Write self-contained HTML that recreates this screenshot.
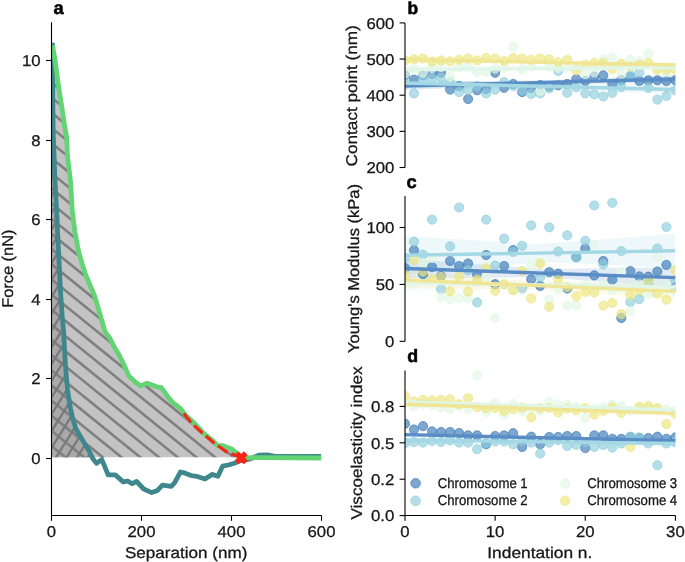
<!DOCTYPE html>
<html><head><meta charset="utf-8"><style>
html,body{margin:0;padding:0;background:#fff;width:685px;height:562px;overflow:hidden}
svg{display:block}
text{font-family:"Liberation Sans", sans-serif;fill:#161616;stroke:#161616;stroke-width:0.28px}
svg{position:absolute;left:0;top:0}
#tx{will-change:transform;text-rendering:geometricPrecision}
</style></head><body>
<svg width="685" height="562" viewBox="0 0 685 562" font-family='"Liberation Sans", sans-serif'>
<defs>
<pattern id="hb" patternUnits="userSpaceOnUse" width="11.77" height="11.77" patternTransform="translate(0,11.13) rotate(39)">
<rect width="11.77" height="11.77" fill="#c3c3c3"/>
<line x1="-1" y1="0" x2="13" y2="0" stroke="#7f7f7f" stroke-width="2.5"/>
<line x1="-1" y1="11.77" x2="13" y2="11.77" stroke="#7f7f7f" stroke-width="2.5"/>
</pattern>
<pattern id="hx" patternUnits="userSpaceOnUse" width="11.77" height="11.77" patternTransform="translate(0,11.13) rotate(39)">
<rect width="11.77" height="11.77" fill="#a9a9a9"/>
<line x1="-1" y1="0" x2="13" y2="0" stroke="#7a7a7a" stroke-width="2.5"/>
<line x1="-1" y1="11.77" x2="13" y2="11.77" stroke="#7a7a7a" stroke-width="2.5"/>
</pattern>
<pattern id="hs" patternUnits="userSpaceOnUse" width="8.9" height="8.9" patternTransform="translate(0,9.6) rotate(122)">
<line x1="-1" y1="0" x2="10" y2="0" stroke="#7a7a7a" stroke-width="2.3"/>
<line x1="-1" y1="8.9" x2="10" y2="8.9" stroke="#7a7a7a" stroke-width="2.3"/>
</pattern>
<clipPath id="ca"><rect x="51.5" y="22" width="270" height="493.5"/></clipPath>
<clipPath id="cr"><rect x="405" y="0" width="270.4" height="562"/></clipPath>
</defs>
<rect width="685" height="562" fill="#fff"/>
<g clip-path="url(#ca)">
<clipPath id="cg"><polygon points="51.5,457.2 51.5,45.5 52.5,45.5 55.0,60.0 57.0,75.0 59.0,89.4 61.5,105.0 63.7,120.0 65.3,130.0 66.7,137.0 67.4,155.6 70.6,182.2 72.2,210.0 74.8,231.4 78.8,252.7 85.3,274.0 94.4,295.5 97.6,306.0 101.8,320.5 104.5,330.0 106.1,333.4 109.6,337.8 114.1,346.7 119.4,355.6 123.9,364.5 128.3,375.2 135.5,382.3 140.8,385.9 147.0,383.2 156.8,386.8 161.3,387.7 167.8,396.7 173.1,402.9 180.3,408.3 185.6,415.4 194.5,423.4 203.4,433.2 212.3,440.3 217.6,445.6 223.0,445.6 231.9,449.2 237.2,453.7 240.8,457.2 240.8,457.2"/></clipPath>
<clipPath id="ct"><polygon points="51.5,457.2 51.5,42.8 52.4,42.8 52.6,80.0 53.0,120.0 53.3,136.0 55.0,180.0 57.1,220.0 57.5,231.0 60.7,295.0 62.5,320.0 63.5,330.0 65.1,360.0 66.2,375.0 67.6,390.0 69.4,402.0 70.6,409.0 72.8,418.5 75.7,428.3 78.6,433.5 83.1,440.9 89.4,451.6 92.0,457.2"/></clipPath>
<polygon points="51.5,457.2 51.5,45.5 52.5,45.5 55.0,60.0 57.0,75.0 59.0,89.4 61.5,105.0 63.7,120.0 65.3,130.0 66.7,137.0 67.4,155.6 70.6,182.2 72.2,210.0 74.8,231.4 78.8,252.7 85.3,274.0 94.4,295.5 97.6,306.0 101.8,320.5 104.5,330.0 106.1,333.4 109.6,337.8 114.1,346.7 119.4,355.6 123.9,364.5 128.3,375.2 135.5,382.3 140.8,385.9 147.0,383.2 156.8,386.8 161.3,387.7 167.8,396.7 173.1,402.9 180.3,408.3 185.6,415.4 194.5,423.4 203.4,433.2 212.3,440.3 217.6,445.6 223.0,445.6 231.9,449.2 237.2,453.7 240.8,457.2 240.8,457.2" fill="#c3c3c3"/>
<polygon points="51.5,457.2 51.5,42.8 52.4,42.8 52.6,80.0 53.0,120.0 53.3,136.0 55.0,180.0 57.1,220.0 57.5,231.0 60.7,295.0 62.5,320.0 63.5,330.0 65.1,360.0 66.2,375.0 67.6,390.0 69.4,402.0 70.6,409.0 72.8,418.5 75.7,428.3 78.6,433.5 83.1,440.9 89.4,451.6 92.0,457.2" fill="#a9a9a9"/>
<path clip-path="url(#cg)" d="M40 -214.76L330 20.08M40 -199.61L330 35.23M40 -184.46L330 50.38M40 -169.31L330 65.53M40 -154.16L330 80.68M40 -139.01L330 95.83M40 -123.86L330 110.98M40 -108.71L330 126.13M40 -93.56L330 141.28M40 -78.41L330 156.43M40 -63.26L330 171.58M40 -48.11L330 186.73M40 -32.96L330 201.88M40 -17.81L330 217.03M40 -2.66L330 232.18M40 12.49L330 247.33M40 27.64L330 262.48M40 42.79L330 277.63M40 57.94L330 292.78M40 73.09L330 307.93M40 88.24L330 323.08M40 103.39L330 338.23M40 118.54L330 353.38M40 133.69L330 368.53M40 148.84L330 383.68M40 163.99L330 398.83M40 179.14L330 413.98M40 194.29L330 429.13M40 209.44L330 444.28M40 224.59L330 459.43M40 239.74L330 474.58M40 254.89L330 489.73M40 270.04L330 504.88M40 285.19L330 520.03M40 300.34L330 535.18M40 315.49L330 550.33M40 330.64L330 565.48M40 345.79L330 580.63M40 360.94L330 595.78M40 376.09L330 610.93M40 391.24L330 626.08M40 406.39L330 641.23M40 421.54L330 656.38M40 436.69L330 671.53M40 451.84L330 686.68M40 466.99L330 701.83" stroke="#808080" stroke-width="2.6" fill="none"/>
<path clip-path="url(#ct)" d="M45 21.58L100 -66.43M45 38.38L100 -49.63M45 55.18L100 -32.83M45 71.98L100 -16.03M45 88.78L100 0.77M45 105.58L100 17.57M45 122.38L100 34.37M45 139.18L100 51.17M45 155.98L100 67.97M45 172.78L100 84.77M45 189.58L100 101.57M45 206.38L100 118.37M45 223.18L100 135.17M45 239.98L100 151.97M45 256.78L100 168.77M45 273.58L100 185.57M45 290.38L100 202.37M45 307.18L100 219.17M45 323.98L100 235.97M45 340.78L100 252.77M45 357.58L100 269.57M45 374.38L100 286.37M45 391.18L100 303.17M45 407.98L100 319.97M45 424.78L100 336.77M45 441.58L100 353.57M45 458.38L100 370.37M45 475.18L100 387.17M45 491.98L100 403.97M45 508.78L100 420.77M45 525.58L100 437.57M45 542.38L100 454.37" stroke="#7a7a7a" stroke-width="2.3" fill="none"/>
<polyline points="52.4,42.8 52.6,80.0 53.0,120.0 53.3,136.0 55.0,180.0 57.1,220.0 57.5,231.0 60.7,295.0 62.5,320.0 63.5,330.0 65.1,360.0 66.2,375.0 67.6,390.0 69.4,402.0 70.6,409.0 72.8,418.5 75.7,428.3 78.6,433.5 83.1,440.9 89.4,451.6 92.9,458.8 96.5,463.2 101.8,459.6 104.5,465.9 108.1,474.8 115.2,474.8 123.2,481.9 127.7,481.0 132.1,483.7 136.6,481.5 143.7,489.0 151.7,492.6 157.0,490.8 162.4,485.1 171.3,486.3 174.7,482.6 180.5,472.0 185.2,473.2 191.0,475.5 198.0,476.7 205.0,479.0 212.0,474.4 217.9,476.3 222.6,466.2 228.4,465.0 234.2,463.2 240.1,460.8 249.4,459.2 258.8,455.2 268.1,455.0 275.1,456.4 321.3,456.5" fill="none" stroke="#3f878d" stroke-width="4.8" stroke-linejoin="round" stroke-linecap="butt"/>
<polyline points="52.5,45.5 55.0,60.0 57.0,75.0 59.0,89.4 61.5,105.0 63.7,120.0 65.3,130.0 66.7,137.0 67.4,155.6 70.6,182.2 72.2,210.0 74.8,231.4 78.8,252.7 85.3,274.0 94.4,295.5 97.6,306.0 101.8,320.5 104.5,330.0 106.1,333.4 109.6,337.8 114.1,346.7 119.4,355.6 123.9,364.5 128.3,375.2 135.5,382.3 140.8,385.9 147.0,383.2 156.8,386.8 161.3,387.7 167.8,396.7 173.1,402.9 180.3,408.3 185.6,415.4 194.5,423.4 203.4,433.2 212.3,440.3 217.6,445.6 223.0,445.6 231.9,449.2 237.2,453.7 240.8,457.2 249.7,457.8 260.0,457.6 321.3,458.0" fill="none" stroke="#63d474" stroke-width="4.8" stroke-linejoin="round" stroke-linecap="butt"/>
<polyline points="183.8,413.6 191.8,423.4 202.5,433.2 214.0,443.0 226.5,451.9 240.8,457.5" fill="none" stroke="#f2281a" stroke-width="3.2" stroke-dasharray="11.5 4.2" stroke-linejoin="round"/>
<polygon points="238.4,452.3 241.2,455.1 243.9,452.3 246.7,455.1 243.9,457.8 246.7,460.6 243.9,463.3 241.2,460.6 238.4,463.3 235.7,460.6 238.4,457.8 235.7,455.1" fill="#f8251a" stroke="#f8251a" stroke-width="1.5" stroke-linejoin="round"/>
</g>
<g stroke="#000" stroke-width="1.1" fill="none">
<path d="M51.5 22.2 V515.5 H321.5"/>
<path d="M46 458.50 H51.5"/>
<path d="M46 378.50 H51.5"/>
<path d="M46 299.50 H51.5"/>
<path d="M46 219.50 H51.5"/>
<path d="M46 140.50 H51.5"/>
<path d="M46 60.50 H51.5"/>
<path d="M51.50 515.5 V520.8"/>
<path d="M141.50 515.5 V520.8"/>
<path d="M231.50 515.5 V520.8"/>
<path d="M321.50 515.5 V520.8"/>
</g>
<g clip-path="url(#cr)">
<polygon points="405.0,82.0 540.2,80.5 675.4,75.0 675.4,83.0 540.2,84.5 405.0,90.0" fill="#5a8dc6" fill-opacity="0.18"/>
<polygon points="405.0,78.0 540.2,84.2 675.4,84.5 675.4,94.5 540.2,88.2 405.0,88.0" fill="#a3d8e4" fill-opacity="0.18"/>
<polygon points="405.0,65.5 540.2,66.5 675.4,63.5 675.4,71.5 540.2,70.5 405.0,73.5" fill="#e0f6e8" fill-opacity="0.18"/>
<polygon points="405.0,56.5 540.2,60.8 675.4,62.0 675.4,68.0 540.2,63.8 405.0,62.5" fill="#efe594" fill-opacity="0.18"/>
<g fill="rgb(55,120,182)" fill-opacity="0.65" stroke="rgb(55,120,182)" stroke-opacity="0.65" stroke-width="1">
<circle cx="405.00" cy="75.30" r="4.6"/>
<circle cx="414.01" cy="79.70" r="4.6"/>
<circle cx="423.03" cy="75.30" r="4.6"/>
<circle cx="432.04" cy="74.10" r="4.6"/>
<circle cx="441.05" cy="72.80" r="4.6"/>
<circle cx="450.07" cy="89.60" r="4.6"/>
<circle cx="459.08" cy="86.00" r="4.6"/>
<circle cx="468.09" cy="99.00" r="4.6"/>
<circle cx="477.11" cy="90.30" r="4.6"/>
<circle cx="486.12" cy="89.00" r="4.6"/>
<circle cx="495.13" cy="72.80" r="4.6"/>
<circle cx="504.15" cy="87.80" r="4.6"/>
<circle cx="513.16" cy="84.00" r="4.6"/>
<circle cx="522.17" cy="92.10" r="4.6"/>
<circle cx="531.19" cy="88.00" r="4.6"/>
<circle cx="540.20" cy="85.00" r="4.6"/>
<circle cx="549.21" cy="86.50" r="4.6"/>
<circle cx="558.23" cy="85.30" r="4.6"/>
<circle cx="567.24" cy="84.00" r="4.6"/>
<circle cx="576.25" cy="79.10" r="4.6"/>
<circle cx="585.27" cy="81.00" r="4.6"/>
<circle cx="594.28" cy="76.60" r="4.6"/>
<circle cx="603.29" cy="75.30" r="4.6"/>
<circle cx="612.31" cy="84.00" r="4.6"/>
<circle cx="621.32" cy="80.00" r="4.6"/>
<circle cx="630.33" cy="77.00" r="4.6"/>
<circle cx="639.35" cy="81.00" r="4.6"/>
<circle cx="648.36" cy="80.30" r="4.6"/>
<circle cx="657.37" cy="80.30" r="4.6"/>
<circle cx="666.39" cy="81.00" r="4.6"/>
<circle cx="675.40" cy="80.30" r="4.6"/>
</g>
<g fill="rgb(140,204,220)" fill-opacity="0.65" stroke="rgb(140,204,220)" stroke-opacity="0.65" stroke-width="1">
<circle cx="405.00" cy="84.00" r="4.6"/>
<circle cx="414.01" cy="93.40" r="4.6"/>
<circle cx="423.03" cy="79.10" r="4.6"/>
<circle cx="432.04" cy="78.40" r="4.6"/>
<circle cx="441.05" cy="77.80" r="4.6"/>
<circle cx="450.07" cy="82.00" r="4.6"/>
<circle cx="459.08" cy="92.10" r="4.6"/>
<circle cx="468.09" cy="90.30" r="4.6"/>
<circle cx="477.11" cy="86.00" r="4.6"/>
<circle cx="486.12" cy="93.40" r="4.6"/>
<circle cx="495.13" cy="89.60" r="4.6"/>
<circle cx="504.15" cy="82.20" r="4.6"/>
<circle cx="513.16" cy="86.00" r="4.6"/>
<circle cx="522.17" cy="90.30" r="4.6"/>
<circle cx="531.19" cy="94.00" r="4.6"/>
<circle cx="540.20" cy="93.40" r="4.6"/>
<circle cx="549.21" cy="88.40" r="4.6"/>
<circle cx="558.23" cy="71.00" r="4.6"/>
<circle cx="567.24" cy="92.80" r="4.6"/>
<circle cx="576.25" cy="87.20" r="4.6"/>
<circle cx="585.27" cy="93.40" r="4.6"/>
<circle cx="594.28" cy="94.30" r="4.6"/>
<circle cx="603.29" cy="96.50" r="4.6"/>
<circle cx="612.31" cy="92.80" r="4.6"/>
<circle cx="621.32" cy="87.20" r="4.6"/>
<circle cx="630.33" cy="75.30" r="4.6"/>
<circle cx="639.35" cy="72.80" r="4.6"/>
<circle cx="648.36" cy="87.80" r="4.6"/>
<circle cx="657.37" cy="99.60" r="4.6"/>
<circle cx="666.39" cy="95.90" r="4.6"/>
<circle cx="675.40" cy="90.30" r="4.6"/>
</g>
<g fill="rgb(226,247,229)" fill-opacity="0.65" stroke="rgb(226,247,229)" stroke-opacity="0.65" stroke-width="1">
<circle cx="405.00" cy="73.50" r="4.6"/>
<circle cx="414.01" cy="69.10" r="4.6"/>
<circle cx="423.03" cy="72.80" r="4.6"/>
<circle cx="432.04" cy="68.00" r="4.6"/>
<circle cx="441.05" cy="67.00" r="4.6"/>
<circle cx="450.07" cy="76.60" r="4.6"/>
<circle cx="459.08" cy="67.20" r="4.6"/>
<circle cx="468.09" cy="66.50" r="4.6"/>
<circle cx="477.11" cy="72.20" r="4.6"/>
<circle cx="486.12" cy="71.60" r="4.6"/>
<circle cx="495.13" cy="68.50" r="4.6"/>
<circle cx="504.15" cy="67.90" r="4.6"/>
<circle cx="513.16" cy="46.70" r="4.6"/>
<circle cx="522.17" cy="69.10" r="4.6"/>
<circle cx="531.19" cy="66.60" r="4.6"/>
<circle cx="540.20" cy="90.90" r="4.6"/>
<circle cx="549.21" cy="66.60" r="4.6"/>
<circle cx="558.23" cy="68.00" r="4.6"/>
<circle cx="567.24" cy="67.90" r="4.6"/>
<circle cx="576.25" cy="67.00" r="4.6"/>
<circle cx="585.27" cy="74.10" r="4.6"/>
<circle cx="594.28" cy="72.20" r="4.6"/>
<circle cx="603.29" cy="59.20" r="4.6"/>
<circle cx="612.31" cy="57.30" r="4.6"/>
<circle cx="621.32" cy="74.70" r="4.6"/>
<circle cx="630.33" cy="59.80" r="4.6"/>
<circle cx="639.35" cy="61.00" r="4.6"/>
<circle cx="648.36" cy="53.60" r="4.6"/>
<circle cx="657.37" cy="68.00" r="4.6"/>
<circle cx="666.39" cy="74.70" r="4.6"/>
<circle cx="675.40" cy="68.00" r="4.6"/>
</g>
<g fill="rgb(236,229,124)" fill-opacity="0.65" stroke="rgb(236,229,124)" stroke-opacity="0.65" stroke-width="1">
<circle cx="405.00" cy="60.40" r="4.6"/>
<circle cx="414.01" cy="59.20" r="4.6"/>
<circle cx="423.03" cy="58.50" r="4.6"/>
<circle cx="432.04" cy="61.60" r="4.6"/>
<circle cx="441.05" cy="60.40" r="4.6"/>
<circle cx="450.07" cy="61.30" r="4.6"/>
<circle cx="459.08" cy="59.80" r="4.6"/>
<circle cx="468.09" cy="58.50" r="4.6"/>
<circle cx="477.11" cy="60.40" r="4.6"/>
<circle cx="486.12" cy="57.90" r="4.6"/>
<circle cx="495.13" cy="58.50" r="4.6"/>
<circle cx="504.15" cy="61.00" r="4.6"/>
<circle cx="513.16" cy="57.90" r="4.6"/>
<circle cx="522.17" cy="58.50" r="4.6"/>
<circle cx="531.19" cy="59.80" r="4.6"/>
<circle cx="540.20" cy="58.50" r="4.6"/>
<circle cx="549.21" cy="59.20" r="4.6"/>
<circle cx="558.23" cy="62.30" r="4.6"/>
<circle cx="567.24" cy="59.80" r="4.6"/>
<circle cx="576.25" cy="70.40" r="4.6"/>
<circle cx="585.27" cy="64.80" r="4.6"/>
<circle cx="594.28" cy="62.90" r="4.6"/>
<circle cx="603.29" cy="62.90" r="4.6"/>
<circle cx="612.31" cy="69.10" r="4.6"/>
<circle cx="621.32" cy="63.50" r="4.6"/>
<circle cx="630.33" cy="66.60" r="4.6"/>
<circle cx="639.35" cy="64.80" r="4.6"/>
<circle cx="648.36" cy="62.90" r="4.6"/>
<circle cx="657.37" cy="69.70" r="4.6"/>
<circle cx="666.39" cy="69.70" r="4.6"/>
<circle cx="675.40" cy="69.70" r="4.6"/>
</g>
<line x1="405.00" y1="86.00" x2="675.40" y2="79.00" stroke="#5a8dc6" stroke-width="3.4"/>
<line x1="405.00" y1="83.00" x2="675.40" y2="89.50" stroke="#a3d8e4" stroke-width="3.4"/>
<line x1="405.00" y1="69.50" x2="675.40" y2="67.50" stroke="#e0f6e8" stroke-width="3.4"/>
<line x1="405.00" y1="59.50" x2="675.40" y2="65.00" stroke="#efe594" stroke-width="3.4"/>
</g>
<g clip-path="url(#cr)">
<polygon points="405.0,258.5 540.2,269.1 675.4,267.6 675.4,287.6 540.2,277.1 405.0,278.5" fill="#5a8dc6" fill-opacity="0.18"/>
<polygon points="405.0,236.3 540.2,244.1 675.4,233.8 675.4,267.8 540.2,262.1 405.0,274.3" fill="#a3d8e4" fill-opacity="0.18"/>
<polygon points="405.0,275.0 540.2,281.0 675.4,279.0 675.4,295.0 540.2,289.0 405.0,291.0" fill="#e0f6e8" fill-opacity="0.18"/>
<polygon points="405.0,272.1 540.2,281.8 675.4,283.4 675.4,299.4 540.2,289.8 405.0,288.1" fill="#efe594" fill-opacity="0.18"/>
<g fill="rgb(55,120,182)" fill-opacity="0.65" stroke="rgb(55,120,182)" stroke-opacity="0.65" stroke-width="1">
<circle cx="405.00" cy="268.00" r="4.6"/>
<circle cx="414.01" cy="250.20" r="4.6"/>
<circle cx="423.03" cy="274.30" r="4.6"/>
<circle cx="432.04" cy="267.10" r="4.6"/>
<circle cx="441.05" cy="276.00" r="4.6"/>
<circle cx="450.07" cy="261.00" r="4.6"/>
<circle cx="459.08" cy="266.00" r="4.6"/>
<circle cx="468.09" cy="263.50" r="4.6"/>
<circle cx="477.11" cy="274.30" r="4.6"/>
<circle cx="486.12" cy="255.00" r="4.6"/>
<circle cx="495.13" cy="284.20" r="4.6"/>
<circle cx="504.15" cy="266.00" r="4.6"/>
<circle cx="513.16" cy="250.20" r="4.6"/>
<circle cx="522.17" cy="288.10" r="4.6"/>
<circle cx="531.19" cy="279.30" r="4.6"/>
<circle cx="540.20" cy="285.90" r="4.6"/>
<circle cx="549.21" cy="272.10" r="4.6"/>
<circle cx="558.23" cy="273.70" r="4.6"/>
<circle cx="567.24" cy="288.60" r="4.6"/>
<circle cx="576.25" cy="257.20" r="4.6"/>
<circle cx="585.27" cy="248.50" r="4.6"/>
<circle cx="594.28" cy="275.40" r="4.6"/>
<circle cx="603.29" cy="261.00" r="4.6"/>
<circle cx="612.31" cy="279.80" r="4.6"/>
<circle cx="621.32" cy="318.00" r="4.6"/>
<circle cx="630.33" cy="271.00" r="4.6"/>
<circle cx="639.35" cy="276.40" r="4.6"/>
<circle cx="648.36" cy="276.70" r="4.6"/>
<circle cx="657.37" cy="271.50" r="4.6"/>
<circle cx="666.39" cy="264.90" r="4.6"/>
<circle cx="675.40" cy="287.00" r="4.6"/>
</g>
<g fill="rgb(140,204,220)" fill-opacity="0.65" stroke="rgb(140,204,220)" stroke-opacity="0.65" stroke-width="1">
<circle cx="405.00" cy="258.00" r="4.6"/>
<circle cx="414.01" cy="241.70" r="4.6"/>
<circle cx="423.03" cy="254.60" r="4.6"/>
<circle cx="432.04" cy="219.60" r="4.6"/>
<circle cx="441.05" cy="289.20" r="4.6"/>
<circle cx="450.07" cy="246.30" r="4.6"/>
<circle cx="459.08" cy="207.50" r="4.6"/>
<circle cx="468.09" cy="270.40" r="4.6"/>
<circle cx="477.11" cy="302.40" r="4.6"/>
<circle cx="486.12" cy="219.60" r="4.6"/>
<circle cx="495.13" cy="265.50" r="4.6"/>
<circle cx="504.15" cy="238.60" r="4.6"/>
<circle cx="513.16" cy="252.00" r="4.6"/>
<circle cx="522.17" cy="245.80" r="4.6"/>
<circle cx="531.19" cy="225.40" r="4.6"/>
<circle cx="540.20" cy="277.00" r="4.6"/>
<circle cx="549.21" cy="227.30" r="4.6"/>
<circle cx="558.23" cy="251.50" r="4.6"/>
<circle cx="567.24" cy="235.30" r="4.6"/>
<circle cx="576.25" cy="257.00" r="4.6"/>
<circle cx="585.27" cy="240.80" r="4.6"/>
<circle cx="594.28" cy="205.50" r="4.6"/>
<circle cx="603.29" cy="264.40" r="4.6"/>
<circle cx="612.31" cy="202.80" r="4.6"/>
<circle cx="621.32" cy="251.00" r="4.6"/>
<circle cx="630.33" cy="301.90" r="4.6"/>
<circle cx="639.35" cy="299.10" r="4.6"/>
<circle cx="648.36" cy="281.50" r="4.6"/>
<circle cx="657.37" cy="248.50" r="4.6"/>
<circle cx="666.39" cy="227.00" r="4.6"/>
<circle cx="675.40" cy="280.40" r="4.6"/>
</g>
<g fill="rgb(226,247,229)" fill-opacity="0.65" stroke="rgb(226,247,229)" stroke-opacity="0.65" stroke-width="1">
<circle cx="405.00" cy="284.00" r="4.6"/>
<circle cx="414.01" cy="284.00" r="4.6"/>
<circle cx="423.03" cy="263.00" r="4.6"/>
<circle cx="432.04" cy="258.00" r="4.6"/>
<circle cx="441.05" cy="297.40" r="4.6"/>
<circle cx="450.07" cy="299.10" r="4.6"/>
<circle cx="459.08" cy="298.00" r="4.6"/>
<circle cx="468.09" cy="298.50" r="4.6"/>
<circle cx="477.11" cy="282.00" r="4.6"/>
<circle cx="486.12" cy="276.50" r="4.6"/>
<circle cx="495.13" cy="318.00" r="4.6"/>
<circle cx="504.15" cy="285.00" r="4.6"/>
<circle cx="513.16" cy="290.00" r="4.6"/>
<circle cx="522.17" cy="290.00" r="4.6"/>
<circle cx="531.19" cy="265.50" r="4.6"/>
<circle cx="540.20" cy="262.00" r="4.6"/>
<circle cx="549.21" cy="299.70" r="4.6"/>
<circle cx="558.23" cy="289.20" r="4.6"/>
<circle cx="567.24" cy="305.70" r="4.6"/>
<circle cx="576.25" cy="305.20" r="4.6"/>
<circle cx="585.27" cy="284.80" r="4.6"/>
<circle cx="594.28" cy="245.50" r="4.6"/>
<circle cx="603.29" cy="285.00" r="4.6"/>
<circle cx="612.31" cy="290.00" r="4.6"/>
<circle cx="621.32" cy="271.50" r="4.6"/>
<circle cx="630.33" cy="311.20" r="4.6"/>
<circle cx="639.35" cy="284.50" r="4.6"/>
<circle cx="648.36" cy="294.50" r="4.6"/>
<circle cx="657.37" cy="256.70" r="4.6"/>
<circle cx="666.39" cy="285.00" r="4.6"/>
<circle cx="675.40" cy="290.00" r="4.6"/>
</g>
<g fill="rgb(236,229,124)" fill-opacity="0.65" stroke="rgb(236,229,124)" stroke-opacity="0.65" stroke-width="1">
<circle cx="405.00" cy="274.80" r="4.6"/>
<circle cx="414.01" cy="260.00" r="4.6"/>
<circle cx="423.03" cy="271.50" r="4.6"/>
<circle cx="432.04" cy="279.30" r="4.6"/>
<circle cx="441.05" cy="277.00" r="4.6"/>
<circle cx="450.07" cy="291.40" r="4.6"/>
<circle cx="459.08" cy="276.50" r="4.6"/>
<circle cx="468.09" cy="291.40" r="4.6"/>
<circle cx="477.11" cy="279.80" r="4.6"/>
<circle cx="486.12" cy="268.20" r="4.6"/>
<circle cx="495.13" cy="290.80" r="4.6"/>
<circle cx="504.15" cy="284.20" r="4.6"/>
<circle cx="513.16" cy="290.30" r="4.6"/>
<circle cx="522.17" cy="271.00" r="4.6"/>
<circle cx="531.19" cy="298.50" r="4.6"/>
<circle cx="540.20" cy="263.80" r="4.6"/>
<circle cx="549.21" cy="306.80" r="4.6"/>
<circle cx="558.23" cy="279.80" r="4.6"/>
<circle cx="567.24" cy="287.00" r="4.6"/>
<circle cx="576.25" cy="296.30" r="4.6"/>
<circle cx="585.27" cy="291.90" r="4.6"/>
<circle cx="594.28" cy="292.50" r="4.6"/>
<circle cx="603.29" cy="305.70" r="4.6"/>
<circle cx="612.31" cy="303.00" r="4.6"/>
<circle cx="621.32" cy="314.00" r="4.6"/>
<circle cx="630.33" cy="295.20" r="4.6"/>
<circle cx="639.35" cy="290.30" r="4.6"/>
<circle cx="648.36" cy="279.80" r="4.6"/>
<circle cx="657.37" cy="293.60" r="4.6"/>
<circle cx="666.39" cy="299.70" r="4.6"/>
<circle cx="675.40" cy="269.90" r="4.6"/>
</g>
<line x1="405.00" y1="268.50" x2="675.40" y2="277.60" stroke="#5a8dc6" stroke-width="3.4"/>
<line x1="405.00" y1="255.30" x2="675.40" y2="250.80" stroke="#a3d8e4" stroke-width="3.4"/>
<line x1="405.00" y1="283.00" x2="675.40" y2="287.00" stroke="#e0f6e8" stroke-width="3.4"/>
<line x1="405.00" y1="280.10" x2="675.40" y2="291.40" stroke="#efe594" stroke-width="3.4"/>
</g>
<g clip-path="url(#cr)">
<polygon points="405.0,432.6 540.2,436.7 675.4,438.8 675.4,442.8 540.2,438.7 405.0,436.6" fill="#5a8dc6" fill-opacity="0.18"/>
<polygon points="405.0,437.0 540.2,440.2 675.4,440.5 675.4,446.5 540.2,443.2 405.0,443.0" fill="#a3d8e4" fill-opacity="0.18"/>
<polygon points="405.0,399.0 540.2,404.5 675.4,407.0 675.4,413.0 540.2,407.5 405.0,405.0" fill="#e0f6e8" fill-opacity="0.18"/>
<polygon points="405.0,401.2 540.2,407.3 675.4,410.4 675.4,416.4 540.2,410.3 405.0,407.2" fill="#efe594" fill-opacity="0.18"/>
<g fill="rgb(55,120,182)" fill-opacity="0.65" stroke="rgb(55,120,182)" stroke-opacity="0.65" stroke-width="1">
<circle cx="405.00" cy="423.70" r="4.6"/>
<circle cx="414.01" cy="429.50" r="4.6"/>
<circle cx="423.03" cy="426.20" r="4.6"/>
<circle cx="432.04" cy="431.40" r="4.6"/>
<circle cx="441.05" cy="432.00" r="4.6"/>
<circle cx="450.07" cy="432.00" r="4.6"/>
<circle cx="459.08" cy="433.00" r="4.6"/>
<circle cx="468.09" cy="435.40" r="4.6"/>
<circle cx="477.11" cy="435.40" r="4.6"/>
<circle cx="486.12" cy="444.20" r="4.6"/>
<circle cx="495.13" cy="436.00" r="4.6"/>
<circle cx="504.15" cy="435.40" r="4.6"/>
<circle cx="513.16" cy="433.20" r="4.6"/>
<circle cx="522.17" cy="447.00" r="4.6"/>
<circle cx="531.19" cy="436.70" r="4.6"/>
<circle cx="540.20" cy="444.20" r="4.6"/>
<circle cx="549.21" cy="437.00" r="4.6"/>
<circle cx="558.23" cy="437.00" r="4.6"/>
<circle cx="567.24" cy="436.00" r="4.6"/>
<circle cx="576.25" cy="436.00" r="4.6"/>
<circle cx="585.27" cy="448.10" r="4.6"/>
<circle cx="594.28" cy="435.40" r="4.6"/>
<circle cx="603.29" cy="435.40" r="4.6"/>
<circle cx="612.31" cy="438.80" r="4.6"/>
<circle cx="621.32" cy="438.80" r="4.6"/>
<circle cx="630.33" cy="437.00" r="4.6"/>
<circle cx="639.35" cy="438.00" r="4.6"/>
<circle cx="648.36" cy="438.10" r="4.6"/>
<circle cx="657.37" cy="436.70" r="4.6"/>
<circle cx="666.39" cy="438.80" r="4.6"/>
<circle cx="675.40" cy="437.40" r="4.6"/>
</g>
<g fill="rgb(140,204,220)" fill-opacity="0.65" stroke="rgb(140,204,220)" stroke-opacity="0.65" stroke-width="1">
<circle cx="405.00" cy="443.10" r="4.6"/>
<circle cx="414.01" cy="442.00" r="4.6"/>
<circle cx="423.03" cy="442.60" r="4.6"/>
<circle cx="432.04" cy="441.00" r="4.6"/>
<circle cx="441.05" cy="442.00" r="4.6"/>
<circle cx="450.07" cy="440.40" r="4.6"/>
<circle cx="459.08" cy="442.60" r="4.6"/>
<circle cx="468.09" cy="442.60" r="4.6"/>
<circle cx="477.11" cy="449.20" r="4.6"/>
<circle cx="486.12" cy="443.00" r="4.6"/>
<circle cx="495.13" cy="441.50" r="4.6"/>
<circle cx="504.15" cy="441.50" r="4.6"/>
<circle cx="513.16" cy="444.20" r="4.6"/>
<circle cx="522.17" cy="441.00" r="4.6"/>
<circle cx="531.19" cy="442.60" r="4.6"/>
<circle cx="540.20" cy="453.60" r="4.6"/>
<circle cx="549.21" cy="442.60" r="4.6"/>
<circle cx="558.23" cy="440.00" r="4.6"/>
<circle cx="567.24" cy="445.90" r="4.6"/>
<circle cx="576.25" cy="444.80" r="4.6"/>
<circle cx="585.27" cy="442.00" r="4.6"/>
<circle cx="594.28" cy="446.90" r="4.6"/>
<circle cx="603.29" cy="444.90" r="4.6"/>
<circle cx="612.31" cy="447.60" r="4.6"/>
<circle cx="621.32" cy="443.50" r="4.6"/>
<circle cx="630.33" cy="436.70" r="4.6"/>
<circle cx="639.35" cy="437.40" r="4.6"/>
<circle cx="648.36" cy="443.50" r="4.6"/>
<circle cx="657.37" cy="465.20" r="4.6"/>
<circle cx="666.39" cy="443.50" r="4.6"/>
<circle cx="675.40" cy="442.00" r="4.6"/>
</g>
<g fill="rgb(226,247,229)" fill-opacity="0.65" stroke="rgb(226,247,229)" stroke-opacity="0.65" stroke-width="1">
<circle cx="405.00" cy="403.00" r="4.6"/>
<circle cx="414.01" cy="406.40" r="4.6"/>
<circle cx="423.03" cy="404.00" r="4.6"/>
<circle cx="432.04" cy="405.00" r="4.6"/>
<circle cx="441.05" cy="407.50" r="4.6"/>
<circle cx="450.07" cy="409.10" r="4.6"/>
<circle cx="459.08" cy="406.00" r="4.6"/>
<circle cx="468.09" cy="409.10" r="4.6"/>
<circle cx="477.11" cy="375.00" r="4.6"/>
<circle cx="486.12" cy="411.90" r="4.6"/>
<circle cx="495.13" cy="403.00" r="4.6"/>
<circle cx="504.15" cy="414.70" r="4.6"/>
<circle cx="513.16" cy="404.20" r="4.6"/>
<circle cx="522.17" cy="411.00" r="4.6"/>
<circle cx="531.19" cy="408.00" r="4.6"/>
<circle cx="540.20" cy="411.00" r="4.6"/>
<circle cx="549.21" cy="402.00" r="4.6"/>
<circle cx="558.23" cy="404.70" r="4.6"/>
<circle cx="567.24" cy="404.70" r="4.6"/>
<circle cx="576.25" cy="407.00" r="4.6"/>
<circle cx="585.27" cy="418.00" r="4.6"/>
<circle cx="594.28" cy="409.00" r="4.6"/>
<circle cx="603.29" cy="407.00" r="4.6"/>
<circle cx="612.31" cy="404.60" r="4.6"/>
<circle cx="621.32" cy="406.00" r="4.6"/>
<circle cx="630.33" cy="410.70" r="4.6"/>
<circle cx="639.35" cy="408.00" r="4.6"/>
<circle cx="648.36" cy="408.00" r="4.6"/>
<circle cx="657.37" cy="409.00" r="4.6"/>
<circle cx="666.39" cy="409.40" r="4.6"/>
<circle cx="675.40" cy="410.00" r="4.6"/>
</g>
<g fill="rgb(236,229,124)" fill-opacity="0.65" stroke="rgb(236,229,124)" stroke-opacity="0.65" stroke-width="1">
<circle cx="405.00" cy="395.90" r="4.6"/>
<circle cx="414.01" cy="401.40" r="4.6"/>
<circle cx="423.03" cy="399.80" r="4.6"/>
<circle cx="432.04" cy="400.30" r="4.6"/>
<circle cx="441.05" cy="399.80" r="4.6"/>
<circle cx="450.07" cy="399.20" r="4.6"/>
<circle cx="459.08" cy="404.20" r="4.6"/>
<circle cx="468.09" cy="398.10" r="4.6"/>
<circle cx="477.11" cy="407.00" r="4.6"/>
<circle cx="486.12" cy="408.00" r="4.6"/>
<circle cx="495.13" cy="408.00" r="4.6"/>
<circle cx="504.15" cy="410.80" r="4.6"/>
<circle cx="513.16" cy="409.10" r="4.6"/>
<circle cx="522.17" cy="407.50" r="4.6"/>
<circle cx="531.19" cy="417.40" r="4.6"/>
<circle cx="540.20" cy="408.00" r="4.6"/>
<circle cx="549.21" cy="408.00" r="4.6"/>
<circle cx="558.23" cy="412.40" r="4.6"/>
<circle cx="567.24" cy="408.60" r="4.6"/>
<circle cx="576.25" cy="410.20" r="4.6"/>
<circle cx="585.27" cy="408.00" r="4.6"/>
<circle cx="594.28" cy="414.50" r="4.6"/>
<circle cx="603.29" cy="410.70" r="4.6"/>
<circle cx="612.31" cy="407.30" r="4.6"/>
<circle cx="621.32" cy="412.80" r="4.6"/>
<circle cx="630.33" cy="446.90" r="4.6"/>
<circle cx="639.35" cy="406.70" r="4.6"/>
<circle cx="648.36" cy="406.00" r="4.6"/>
<circle cx="657.37" cy="408.00" r="4.6"/>
<circle cx="666.39" cy="424.00" r="4.6"/>
<circle cx="675.40" cy="414.10" r="4.6"/>
</g>
<line x1="405.00" y1="434.60" x2="675.40" y2="440.80" stroke="#5a8dc6" stroke-width="3.4"/>
<line x1="405.00" y1="440.00" x2="675.40" y2="443.50" stroke="#a3d8e4" stroke-width="3.4"/>
<line x1="405.00" y1="402.00" x2="675.40" y2="410.00" stroke="#e0f6e8" stroke-width="3.4"/>
<line x1="405.00" y1="404.20" x2="675.40" y2="413.40" stroke="#efe594" stroke-width="3.4"/>
</g>
<g stroke="#000" stroke-width="1.1" fill="none">
<path d="M405 22.9 V167.5"/>
<path d="M405 196.1 V341.3"/>
<path d="M405 370.4 V515.5 H675.4"/>
<path d="M399.6 167.50 H405"/>
<path d="M399.6 131.35 H405"/>
<path d="M399.6 95.20 H405"/>
<path d="M399.6 59.05 H405"/>
<path d="M399.6 22.90 H405"/>
<path d="M399.6 341.30 H405"/>
<path d="M399.6 284.40 H405"/>
<path d="M399.6 227.50 H405"/>
<path d="M399.6 515.60 H405"/>
<path d="M399.6 479.20 H405"/>
<path d="M399.6 442.80 H405"/>
<path d="M399.6 406.40 H405"/>
<path d="M405.00 515.5 V520.8"/>
<path d="M495.13 515.5 V520.8"/>
<path d="M585.27 515.5 V520.8"/>
<path d="M675.40 515.5 V520.8"/>
</g>
<circle cx="415.6" cy="483.3" r="4.8" fill="rgb(55,120,182)" fill-opacity="0.65" stroke="rgb(55,120,182)" stroke-opacity="0.65" stroke-width="1"/>
<circle cx="415.6" cy="500.8" r="4.8" fill="rgb(140,204,220)" fill-opacity="0.65" stroke="rgb(140,204,220)" stroke-opacity="0.65" stroke-width="1"/>
<circle cx="565.1" cy="483.3" r="4.8" fill="rgb(226,247,229)" fill-opacity="0.65" stroke="rgb(226,247,229)" stroke-opacity="0.65" stroke-width="1"/>
<circle cx="565.1" cy="500.8" r="4.8" fill="rgb(236,229,124)" fill-opacity="0.65" stroke="rgb(236,229,124)" stroke-opacity="0.65" stroke-width="1"/>
</svg>
<svg id="tx" width="685" height="562" viewBox="0 0 685 562" font-family='"Liberation Sans", sans-serif'><text x="40.60" y="464.40" font-size="15.6" text-anchor="end" textLength="9.30" lengthAdjust="spacingAndGlyphs">0</text>
<text x="40.60" y="384.40" font-size="15.6" text-anchor="end" textLength="9.30" lengthAdjust="spacingAndGlyphs">2</text>
<text x="40.60" y="305.40" font-size="15.6" text-anchor="end" textLength="9.30" lengthAdjust="spacingAndGlyphs">4</text>
<text x="40.60" y="225.40" font-size="15.6" text-anchor="end" textLength="9.30" lengthAdjust="spacingAndGlyphs">6</text>
<text x="40.60" y="146.40" font-size="15.6" text-anchor="end" textLength="9.30" lengthAdjust="spacingAndGlyphs">8</text>
<text x="40.60" y="66.40" font-size="15.6" text-anchor="end" textLength="18.60" lengthAdjust="spacingAndGlyphs">10</text>
<text x="51.50" y="536.80" font-size="15.6" text-anchor="middle" textLength="9.30" lengthAdjust="spacingAndGlyphs">0</text>
<text x="141.50" y="536.80" font-size="15.6" text-anchor="middle" textLength="27.90" lengthAdjust="spacingAndGlyphs">200</text>
<text x="231.50" y="536.80" font-size="15.6" text-anchor="middle" textLength="27.90" lengthAdjust="spacingAndGlyphs">400</text>
<text x="321.50" y="536.80" font-size="15.6" text-anchor="middle" textLength="27.90" lengthAdjust="spacingAndGlyphs">600</text>
<text x="186.20" y="557.60" font-size="15.6" text-anchor="middle" textLength="122.50" lengthAdjust="spacingAndGlyphs">Separation (nm)</text>
<text x="12.60" y="268.70" font-size="15.6" text-anchor="middle" textLength="78.30" lengthAdjust="spacingAndGlyphs" transform="rotate(-90 12.60 268.70)">Force (nN)</text>
<text x="58.70" y="14.30" font-size="18.3" text-anchor="middle" font-weight="bold" style="fill:#000;stroke:#000;stroke-width:0.55px;stroke-linejoin:round">a</text>
<text x="394.40" y="173.20" font-size="15.6" text-anchor="end" textLength="27.90" lengthAdjust="spacingAndGlyphs">200</text>
<text x="394.40" y="137.05" font-size="15.6" text-anchor="end" textLength="27.90" lengthAdjust="spacingAndGlyphs">300</text>
<text x="394.40" y="100.90" font-size="15.6" text-anchor="end" textLength="27.90" lengthAdjust="spacingAndGlyphs">400</text>
<text x="394.40" y="64.75" font-size="15.6" text-anchor="end" textLength="27.90" lengthAdjust="spacingAndGlyphs">500</text>
<text x="394.40" y="28.60" font-size="15.6" text-anchor="end" textLength="27.90" lengthAdjust="spacingAndGlyphs">600</text>
<text x="394.40" y="347.00" font-size="15.6" text-anchor="end" textLength="9.30" lengthAdjust="spacingAndGlyphs">0</text>
<text x="394.40" y="290.10" font-size="15.6" text-anchor="end" textLength="18.60" lengthAdjust="spacingAndGlyphs">50</text>
<text x="394.40" y="233.20" font-size="15.6" text-anchor="end" textLength="27.90" lengthAdjust="spacingAndGlyphs">100</text>
<text x="394.40" y="521.30" font-size="15.6" text-anchor="end" textLength="23.40" lengthAdjust="spacingAndGlyphs">0.0</text>
<text x="394.40" y="484.90" font-size="15.6" text-anchor="end" textLength="23.40" lengthAdjust="spacingAndGlyphs">0.2</text>
<text x="394.40" y="448.50" font-size="15.6" text-anchor="end" textLength="23.40" lengthAdjust="spacingAndGlyphs">0.5</text>
<text x="394.40" y="412.10" font-size="15.6" text-anchor="end" textLength="23.40" lengthAdjust="spacingAndGlyphs">0.8</text>
<text x="405.00" y="536.80" font-size="15.6" text-anchor="middle" textLength="9.30" lengthAdjust="spacingAndGlyphs">0</text>
<text x="495.13" y="536.80" font-size="15.6" text-anchor="middle" textLength="18.60" lengthAdjust="spacingAndGlyphs">10</text>
<text x="585.27" y="536.80" font-size="15.6" text-anchor="middle" textLength="18.60" lengthAdjust="spacingAndGlyphs">20</text>
<text x="675.40" y="536.80" font-size="15.6" text-anchor="middle" textLength="18.60" lengthAdjust="spacingAndGlyphs">30</text>
<text x="539.80" y="557.60" font-size="15.6" text-anchor="middle" textLength="105.00" lengthAdjust="spacingAndGlyphs">Indentation n.</text>
<text x="357.40" y="95.80" font-size="15.6" text-anchor="middle" textLength="141.20" lengthAdjust="spacingAndGlyphs" transform="rotate(-90 357.40 95.80)">Contact point (nm)</text>
<text x="359.20" y="268.50" font-size="15.6" text-anchor="middle" textLength="169.20" lengthAdjust="spacingAndGlyphs" transform="rotate(-90 359.20 268.50)">Young's Modulus (kPa)</text>
<text x="361.80" y="443.00" font-size="15.6" text-anchor="middle" textLength="153.20" lengthAdjust="spacingAndGlyphs" transform="rotate(-90 361.80 443.00)">Viscoelasticity index</text>
<text x="412.90" y="14.20" font-size="17.4" text-anchor="middle" font-weight="bold" style="fill:#000;stroke:#000;stroke-width:0.55px;stroke-linejoin:round">b</text>
<text x="411.70" y="188.10" font-size="18.3" text-anchor="middle" font-weight="bold" style="fill:#000;stroke:#000;stroke-width:0.55px;stroke-linejoin:round">c</text>
<text x="412.60" y="361.50" font-size="17.8" text-anchor="middle" font-weight="bold" style="fill:#000;stroke:#000;stroke-width:0.55px;stroke-linejoin:round">d</text>
<text x="437.70" y="487.60" font-size="14.2" text-anchor="start" textLength="90.00" lengthAdjust="spacingAndGlyphs">Chromosome 1</text>
<text x="437.70" y="505.10" font-size="14.2" text-anchor="start" textLength="90.00" lengthAdjust="spacingAndGlyphs">Chromosome 2</text>
<text x="587.20" y="487.60" font-size="14.2" text-anchor="start" textLength="90.00" lengthAdjust="spacingAndGlyphs">Chromosome 3</text>
<text x="587.20" y="505.10" font-size="14.2" text-anchor="start" textLength="90.00" lengthAdjust="spacingAndGlyphs">Chromosome 4</text></svg>
</body></html>
